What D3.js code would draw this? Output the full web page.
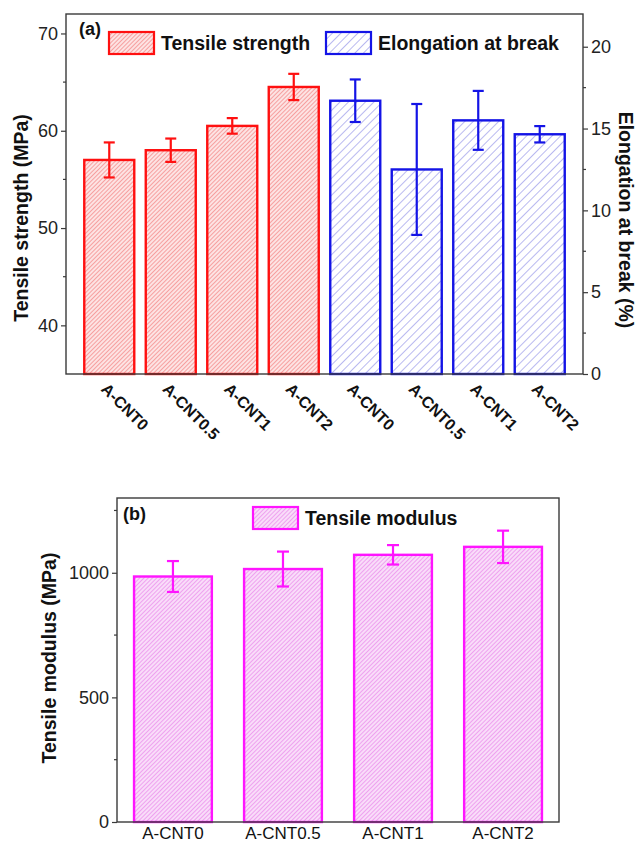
<!DOCTYPE html>
<html>
<head>
<meta charset="utf-8">
<script src="https://cdn.jsdelivr.net/npm/d3@7"></script>
<style>
  body { margin: 0; background: #fff; }
  text { font-family: "Liberation Sans", Arial, sans-serif; }
</style>
</head>
<body>
<div id="chart"></div>
<script>
const samples = ["A-CNT0", "A-CNT0.5", "A-CNT1", "A-CNT2"];

const tensileStrength = [57.0, 58.0, 60.5, 64.5];
const tensileStrengthErr = [1.8, 1.2, 0.8, 1.35];
const elongation = [16.7, 12.5, 15.5, 14.65];
const elongationErr = [1.3, 4.0, 1.8, 0.5];
const tensileModulus = [985, 1015, 1072, 1104];
const tensileModulusErr = [62, 70, 39, 65];

const strengthTicks = [40, 50, 60, 70];
const elongTicks = [0, 5, 10, 15, 20];
const modulusTicks = [0, 500, 1000];

const W = 638, H = 845;
const svg = d3.select("#chart").append("svg")
    .attr("width", W).attr("height", H);

// hatch patterns
const defs = svg.append("defs");
function hatch(id, gap, bg, line) {
    const p = defs.append("pattern")
        .attr("id", id)
        .attr("patternUnits", "userSpaceOnUse")
        .attr("width", gap).attr("height", gap)
        .attr("patternTransform", "rotate(45)");
    p.append("rect").attr("width", gap).attr("height", gap).attr("fill", bg);
    p.append("line").attr("x1", 0).attr("y1", 0).attr("x2", 0).attr("y2", gap)
        .attr("stroke", line).attr("stroke-width", 1.2);
}
hatch("hRed", 3, "#fde3e3", "#f27272");
hatch("hBlue", 6, "#ffffff", "#8a8ae6");
hatch("hMag", 3, "#f9dcf9", "#e77be9");

const red = "#ff1010", blue = "#1414e6", mag = "#ff14ff";
const frame = "#3a3a3a";

function yAxisLeft(g, scale, ticks, minors, x, fmt) {
    g.selectAll(".minor").data(minors).enter().append("line")
        .attr("x1", x - 3).attr("x2", x)
        .attr("y1", d => scale(d)).attr("y2", d => scale(d))
        .attr("stroke", frame).attr("stroke-width", 1.2);
    const ax = g.append("g").attr("transform", `translate(${x},0)`)
        .call(d3.axisLeft(scale).tickValues(ticks).tickSize(5).tickPadding(3).tickFormat(fmt || d3.format("d")));
    ax.select(".domain").remove();
    ax.selectAll("line").attr("stroke", frame).attr("stroke-width", 1.2);
    ax.selectAll("text").attr("font-size", 18).attr("fill", "#222");
}

// ---------- panel (a) ----------
const a = { l: 66, r: 583, t: 14, b: 374 };
const labelsA = samples.map(s => "r" + s).concat(samples.map(s => "b" + s));
const xA = d3.scaleBand().domain(labelsA).range([a.l, a.r])
    .paddingInner(0.187).paddingOuter(0.297);
const yL = d3.scaleLinear().domain([35, 72]).range([a.b, a.t]);
const yR = d3.scaleLinear().domain([0, 22]).range([a.b, a.t]);

const gA = svg.append("g");

// red bars
gA.selectAll(".barR").data(tensileStrength).enter().append("rect")
    .attr("x", (d, i) => xA("r" + samples[i]))
    .attr("y", d => yL(d))
    .attr("width", xA.bandwidth())
    .attr("height", d => a.b - yL(d))
    .attr("fill", "url(#hRed)").attr("stroke", red).attr("stroke-width", 2.4);

// blue bars
gA.selectAll(".barB").data(elongation).enter().append("rect")
    .attr("x", (d, i) => xA("b" + samples[i]))
    .attr("y", d => yR(d))
    .attr("width", xA.bandwidth())
    .attr("height", d => a.b - yR(d))
    .attr("fill", "url(#hBlue)").attr("stroke", blue).attr("stroke-width", 2.4);

function errBars(g, xs, vals, errs, y, color, cap) {
    vals.forEach((v, i) => {
        const cx = xs[i];
        const e = g.append("g").attr("stroke", color).attr("stroke-width", 2.2);
        e.append("line").attr("x1", cx).attr("x2", cx).attr("y1", y(v + errs[i])).attr("y2", y(v - errs[i]));
        e.append("line").attr("x1", cx - cap).attr("x2", cx + cap).attr("y1", y(v + errs[i])).attr("y2", y(v + errs[i]));
        e.append("line").attr("x1", cx - cap).attr("x2", cx + cap).attr("y1", y(v - errs[i])).attr("y2", y(v - errs[i]));
    });
}
errBars(gA, samples.map(s => xA("r" + s) + xA.bandwidth() / 2), tensileStrength, tensileStrengthErr, yL, red, 5.5);
errBars(gA, samples.map(s => xA("b" + s) + xA.bandwidth() / 2), elongation, elongationErr, yR, blue, 5.5);

// frame
gA.append("rect").attr("x", a.l).attr("y", a.t).attr("width", a.r - a.l).attr("height", a.b - a.t)
    .attr("fill", "none").attr("stroke", frame).attr("stroke-width", 1.4);

yAxisLeft(gA, yL, strengthTicks, [45, 55, 65], a.l);

// right axis
gA.selectAll(".minorR").data([2.5, 7.5, 12.5, 17.5]).enter().append("line")
    .attr("x1", a.r).attr("x2", a.r + 3)
    .attr("y1", d => yR(d)).attr("y2", d => yR(d))
    .attr("stroke", frame).attr("stroke-width", 1.2);
const axR = gA.append("g").attr("transform", `translate(${a.r},0)`)
    .call(d3.axisRight(yR).tickValues(elongTicks).tickSize(5).tickPadding(3).tickFormat(d3.format("d")));
axR.select(".domain").remove();
axR.selectAll("line").attr("stroke", frame).attr("stroke-width", 1.2);
axR.selectAll("text").attr("font-size", 18).attr("fill", "#222");

// x labels rotated
labelsA.forEach(k => {
    const cx = xA(k) + xA.bandwidth() / 2;
    gA.append("text")
        .attr("transform", `translate(${cx - 5},${a.b + 12}) rotate(45)`)
        .attr("font-size", 16).attr("font-weight", "bold").attr("fill", "#111")
        .attr("dy", "0.35em")
        .text(k.slice(1));
});

// axis titles
gA.append("text").attr("transform", `translate(28,218) rotate(-90)`)
    .attr("text-anchor", "middle").attr("font-size", 19.5).attr("font-weight", "bold").attr("fill", "#111")
    .text("Tensile strength (MPa)");
gA.append("text").attr("transform", `translate(619,220) rotate(90)`)
    .attr("text-anchor", "middle").attr("font-size", 19.5).attr("font-weight", "bold").attr("fill", "#111")
    .text("Elongation at break (%)");

// panel label + legend
gA.append("text").attr("x", 79).attr("y", 35).attr("font-size", 18).attr("font-weight", "bold").attr("fill", "#111").text("(a)");
gA.append("rect").attr("x", 109).attr("y", 32).attr("width", 45).attr("height", 22)
    .attr("fill", "url(#hRed)").attr("stroke", red).attr("stroke-width", 2.2);
gA.append("text").attr("x", 161).attr("y", 50).attr("font-size", 19.5).attr("font-weight", "bold").attr("fill", "#111").text("Tensile strength");
gA.append("rect").attr("x", 326).attr("y", 32).attr("width", 45).attr("height", 22)
    .attr("fill", "url(#hBlue)").attr("stroke", blue).attr("stroke-width", 2.2);
gA.append("text").attr("x", 378).attr("y", 50).attr("font-size", 19.5).attr("font-weight", "bold").attr("fill", "#111").text("Elongation at break");

// ---------- panel (b) ----------
const b = { l: 117, r: 559, t: 498, b: 822 };
const xB = d3.scaleBand().domain(samples).range([b.l, b.r]).paddingInner(0.293).paddingOuter(0.155);
const yB = d3.scaleLinear().domain([0, 1300]).range([b.b, b.t]);
const gB = svg.append("g");

gB.selectAll(".barM").data(tensileModulus).enter().append("rect")
    .attr("x", (d, i) => xB(samples[i]))
    .attr("y", d => yB(d))
    .attr("width", xB.bandwidth())
    .attr("height", d => b.b - yB(d))
    .attr("fill", "url(#hMag)").attr("stroke", mag).attr("stroke-width", 2.4);

errBars(gB, samples.map(s => xB(s) + xB.bandwidth() / 2), tensileModulus, tensileModulusErr, yB, mag, 6);

gB.append("rect").attr("x", b.l).attr("y", b.t).attr("width", b.r - b.l).attr("height", b.b - b.t)
    .attr("fill", "none").attr("stroke", frame).attr("stroke-width", 1.4);

yAxisLeft(gB, yB, modulusTicks, [250, 750, 1250], b.l);

const axB = gB.append("g").attr("transform", `translate(0,${b.b})`)
    .call(d3.axisBottom(xB).tickSize(0).tickPadding(5));
axB.select(".domain").remove();
axB.selectAll("text").attr("font-size", 17).attr("fill", "#111");

gB.append("text").attr("transform", `translate(56,658) rotate(-90)`)
    .attr("text-anchor", "middle").attr("font-size", 19.5).attr("font-weight", "bold").attr("fill", "#111")
    .text("Tensile modulus (MPa)");

gB.append("text").attr("x", 123).attr("y", 520).attr("font-size", 18).attr("font-weight", "bold").attr("fill", "#111").text("(b)");
gB.append("rect").attr("x", 253).attr("y", 507).attr("width", 45).attr("height", 22)
    .attr("fill", "url(#hMag)").attr("stroke", mag).attr("stroke-width", 2.2);
gB.append("text").attr("x", 305).attr("y", 525).attr("font-size", 19.5).attr("font-weight", "bold").attr("fill", "#111").text("Tensile modulus");
</script>
</body>
</html>
